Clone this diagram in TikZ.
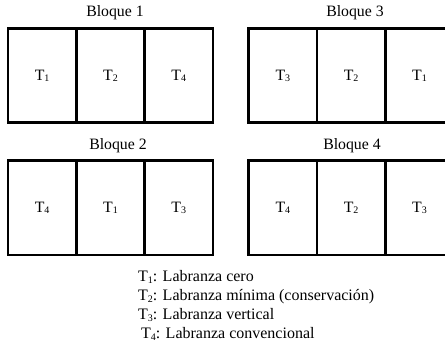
\documentclass[tikz,border=0pt]{standalone}
\usepackage{fontspec}
\setmainfont{Liberation Serif}
\newcommand\Tn[1]{T\raisebox{-1.2pt}{\fontsize{10}{10}\selectfont #1}}
\begin{document}
\begin{tikzpicture}[x=1pt,y=-1pt,
  cell/.style={draw, line width=2.7pt, minimum width=68.3pt, minimum height=94.4pt, inner sep=0pt, font=\fontsize{15.8}{18}\selectfont},
  btitle/.style={anchor=base, inner sep=0pt, font=\fontsize{15.8}{18}\selectfont},
  legend/.style={anchor=base west, inner sep=0pt, font=\fontsize{16}{19}\selectfont}]
\clip (0,0) rectangle (445,344);
\fill[white] (0,0) rectangle (445,344);
% Bloque 1
\node[btitle] (t1) at (115,17) {Bloque 1};
\node[cell] (b1a) at (42.15,75.5) {\Tn{1}};
\node[cell] (b1b) at (110.45,75.5) {\Tn{2}};
\node[cell] (b1c) at (178.75,75.5) {\Tn{4}};
% Bloque 3
\node[btitle] (t3) at (355,17) {Bloque 3};
\node[cell] (b3a) at (282.85,75.5) {\Tn{3}};
\node[cell] (b3b) at (351.15,75.5) {\Tn{2}};
\node[cell] (b3c) at (419.45,75.5) {\Tn{1}};
% Bloque 2
\node[btitle] (t2) at (118,150) {Bloque 2};
\node[cell] (b2a) at (42.15,207.7) {\Tn{4}};
\node[cell] (b2b) at (110.45,207.7) {\Tn{1}};
\node[cell] (b2c) at (178.75,207.7) {\Tn{3}};
% Bloque 4
\node[btitle] (t4) at (352,150) {Bloque 4};
\node[cell] (b4a) at (282.85,207.7) {\Tn{4}};
\node[cell] (b4b) at (351.15,207.7) {\Tn{2}};
\node[cell] (b4c) at (419.45,207.7) {\Tn{3}};
% Legend
\node[legend] (l1) at (138,282) {\Tn{1}: Labranza cero};
\node[legend] (l2) at (138,301) {\Tn{2}: Labranza mínima (conservación)};
\node[legend] (l3) at (138,320) {\Tn{3}: Labranza vertical};
\node[legend] (l4) at (141,339) {\Tn{4}: Labranza convencional};
\end{tikzpicture}
\end{document}
